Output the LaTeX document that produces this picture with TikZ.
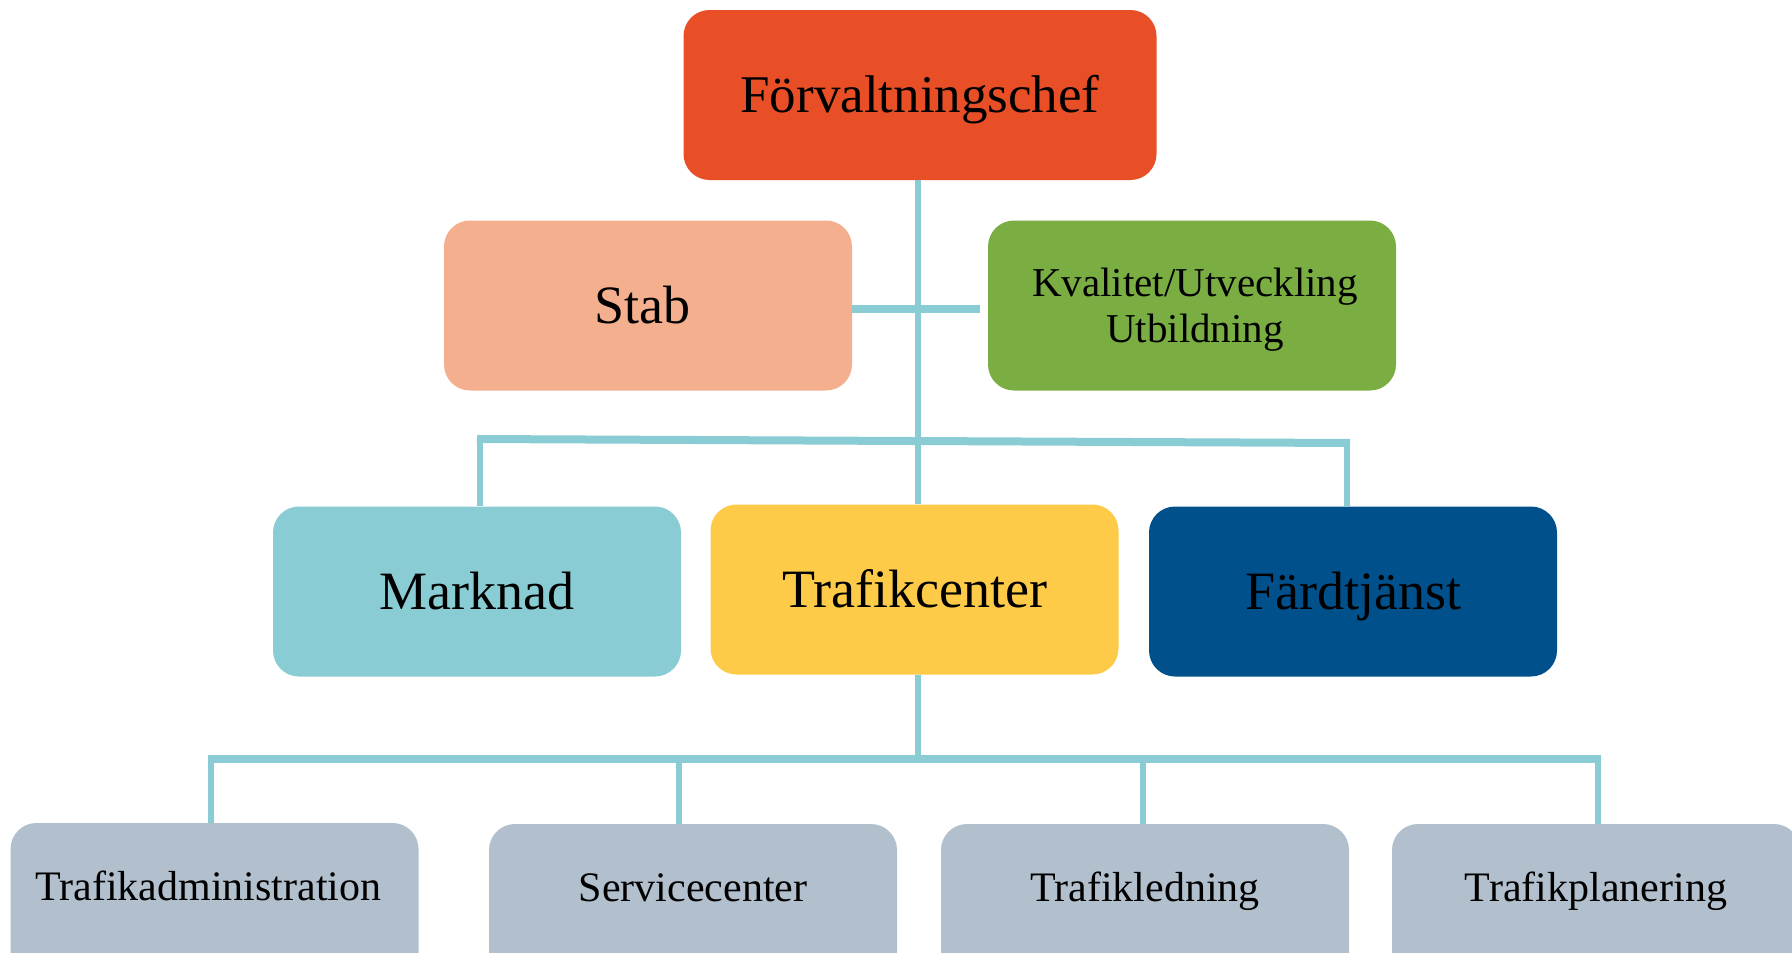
\documentclass[tikz,border=0pt]{standalone}
\usepackage{fontspec}
\setmainfont{Liberation Serif}
\definecolor{cChef}{RGB}{233,79,38}
\definecolor{cStab}{RGB}{244,176,142}
\definecolor{cKval}{RGB}{122,174,66}
\definecolor{cMark}{RGB}{137,204,211}
\definecolor{cTraf}{RGB}{253,203,71}
\definecolor{cFard}{RGB}{0,80,140}
\definecolor{cGrey}{RGB}{178,191,205}
\definecolor{cLine}{RGB}{137,204,211}
\begin{document}
\begin{tikzpicture}[x=1pt,y=-1pt,
  box/.style={rounded corners=26pt, minimum width=408pt, minimum height=170pt, inner sep=0pt, align=center, text=black},
  bigtext/.style={font=\fontsize{54}{60}\selectfont, text height=44.8pt, text depth=9.2pt},
  midtext/.style={font=\fontsize{41}{46}\selectfont, text depth=0pt},
  bottombox/.style={box, fill=cGrey},
  bottomtext/.style={font=\fontsize{42}{46}\selectfont, text height=34.9pt, text depth=7.1pt, yshift=21pt, text=black},
  conn/.style={draw=cLine, line width=6pt},
  bar/.style={draw=cLine, line width=8pt}]
\useasboundingbox[fill=white] (0,0) rectangle (1792,953);

% nodes
\node[box, fill=cChef, bigtext, font=\fontsize{53}{60}\selectfont, minimum width=473pt] (F) at (920,95) {Förvaltningschef};
\node[box, fill=cStab, bigtext] (S) at (648,305.5) {Stab\hspace*{12pt}};
\node[box, fill=cKval, midtext] (K) at (1192,305.5) {\hspace*{6pt}Kvalitet/Utveckling\\\hspace*{6pt}Utbildning};
\node[box, fill=cMark, bigtext] (M) at (477,591.5) {Marknad};
\node[box, fill=cTraf, bigtext] (TC) at (914.5,589.5) {Trafikcenter};
\node[box, fill=cFard, bigtext] (FT) at (1353,591.5) {Färdtjänst};

\node[bottombox, label={[bottomtext, xshift=-6pt]center:Trafikadministration}] (TA) at (214.5,908) {};
\node[bottombox, label={[bottomtext]center:Servicecenter}] (SC) at (693,909) {};
\node[bottombox, label={[bottomtext]center:Trafikledning}] (TL) at (1145,909) {};
\node[bottombox, label={[bottomtext]center:Trafikplanering}] (TP) at (1596,909) {};

% coordinates
\coordinate (sb) at (980,309);
\coordinate (ml) at (480,439);
\coordinate (mr) at (1347,443);
\coordinate (bb) at (918,759);
\coordinate (b1) at (211,759);
\coordinate (b2) at (679,759);
\coordinate (b3) at (1143,759);
\coordinate (b4) at (1598,759);

% connectors
\draw[conn] (F.south -| bb) -- (bb |- TC.north);
\draw[bar] (S.east |- sb) -- (sb);
\draw[bar] ([xshift=-3pt]ml) -- ([xshift=3pt]mr);
\draw[conn] (ml) -- (ml |- M.north);
\draw[conn] (mr) -- (mr |- FT.north);
\draw[conn] (TC.south -| bb) -- (bb);
\draw[bar] ([xshift=-3pt]b1) -- ([xshift=3pt]b4);
\draw[conn] (b1) -- (b1 |- TA.north);
\draw[conn] (b2) -- (b2 |- SC.north);
\draw[conn] (b3) -- (b3 |- TL.north);
\draw[conn] (b4) -- (b4 |- TP.north);
\end{tikzpicture}
\end{document}
